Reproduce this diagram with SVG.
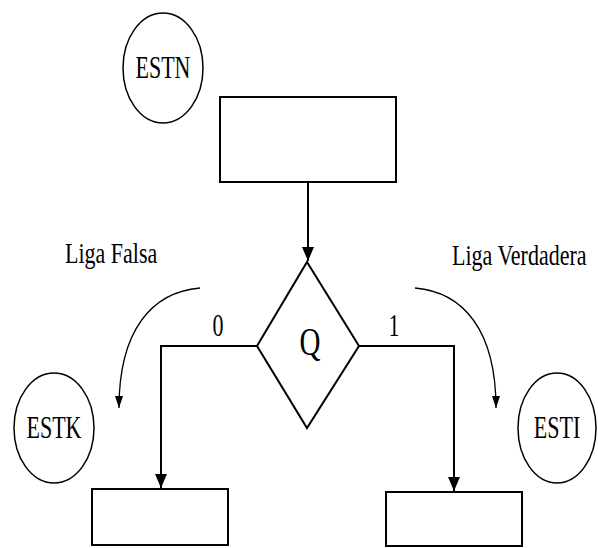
<svg xmlns="http://www.w3.org/2000/svg" width="598" height="548" viewBox="0 0 598 548">
<style>
.box{fill:#fff;stroke:#000;stroke-width:2}
.st{fill:#fff;stroke:#000;stroke-width:1.5}
.ln{fill:none;stroke:#000;stroke-width:2}
.cv{fill:none;stroke:#000;stroke-width:1.3}
text{font-family:"Liberation Serif","Times New Roman",serif;fill:#000}
.lbl{font-size:22px}
.mid{text-anchor:middle}
</style>
<defs>
<marker id="ah" markerWidth="14" markerHeight="12" refX="14" refY="6" orient="auto" markerUnits="userSpaceOnUse" viewBox="0 0 14 12">
<path d="M0,0 L14,6 L0,12 Z" fill="#000"/>
</marker>
<marker id="sh" markerWidth="12" markerHeight="8" refX="12" refY="4" orient="auto" markerUnits="userSpaceOnUse" viewBox="0 0 12 8">
<path d="M0,0 L12,4 L0,8 Z" fill="#000"/>
</marker>
</defs>
<rect width="598" height="548" fill="#fff"/>
<g id="connectors">
<path class="ln" d="M308,182 L308,261" marker-end="url(#ah)"/>
<path class="ln" d="M257,346 L161,346 L161,488" marker-end="url(#ah)"/>
<path class="ln" d="M359,346 L454,346 L454,491" marker-end="url(#ah)"/>
<path class="cv" d="M200,288 C152,292 119,330 119,408" marker-end="url(#sh)"/>
<path class="cv" d="M415,288 C463,292 496,330 496,408" marker-end="url(#sh)"/>
</g>
<g id="estn">
<ellipse class="st" cx="163" cy="68" rx="40" ry="55"/>
<text class="lbl mid" font-family="Liberation Serif, serif" transform="translate(163,78) scale(1,1.45)">ESTN</text>
</g>
<g id="proceso">
<rect class="box" x="220" y="97" width="176" height="85"/>
</g>
<g id="decision">
<polygon class="box" points="307,262 359,346 307,428 257,346"/>
<text class="mid" font-family="Liberation Serif, serif" style="font-size:29px" transform="translate(310,355) scale(1,1.37)">Q</text>
</g>
<g id="liga-falsa">
<text class="lbl" font-family="Liberation Serif, serif" transform="translate(65,263) scale(1,1.38)">Liga Falsa</text>
<text class="lbl mid" font-family="Liberation Serif, serif" transform="translate(218,336) scale(1,1.4)">0</text>
</g>
<g id="liga-verdadera">
<text class="lbl" font-family="Liberation Serif, serif" transform="translate(452,265) scale(1,1.38)">Liga Verdadera</text>
<text class="lbl mid" font-family="Liberation Serif, serif" transform="translate(394,336) scale(1,1.4)">1</text>
</g>
<g id="estk">
<ellipse class="st" cx="54" cy="428" rx="40" ry="55"/>
<text class="lbl mid" font-family="Liberation Serif, serif" transform="translate(54,438) scale(1,1.45)">ESTK</text>
</g>
<g id="esti">
<ellipse class="st" cx="557" cy="428" rx="39" ry="55"/>
<text class="lbl mid" font-family="Liberation Serif, serif" transform="translate(557,438) scale(1,1.45)">ESTI</text>
</g>
<g id="bloque-falso">
<rect class="box" x="92" y="489" width="136" height="56"/>
</g>
<g id="bloque-verdadero">
<rect class="box" x="386" y="492" width="136" height="54"/>
</g>
</svg>
